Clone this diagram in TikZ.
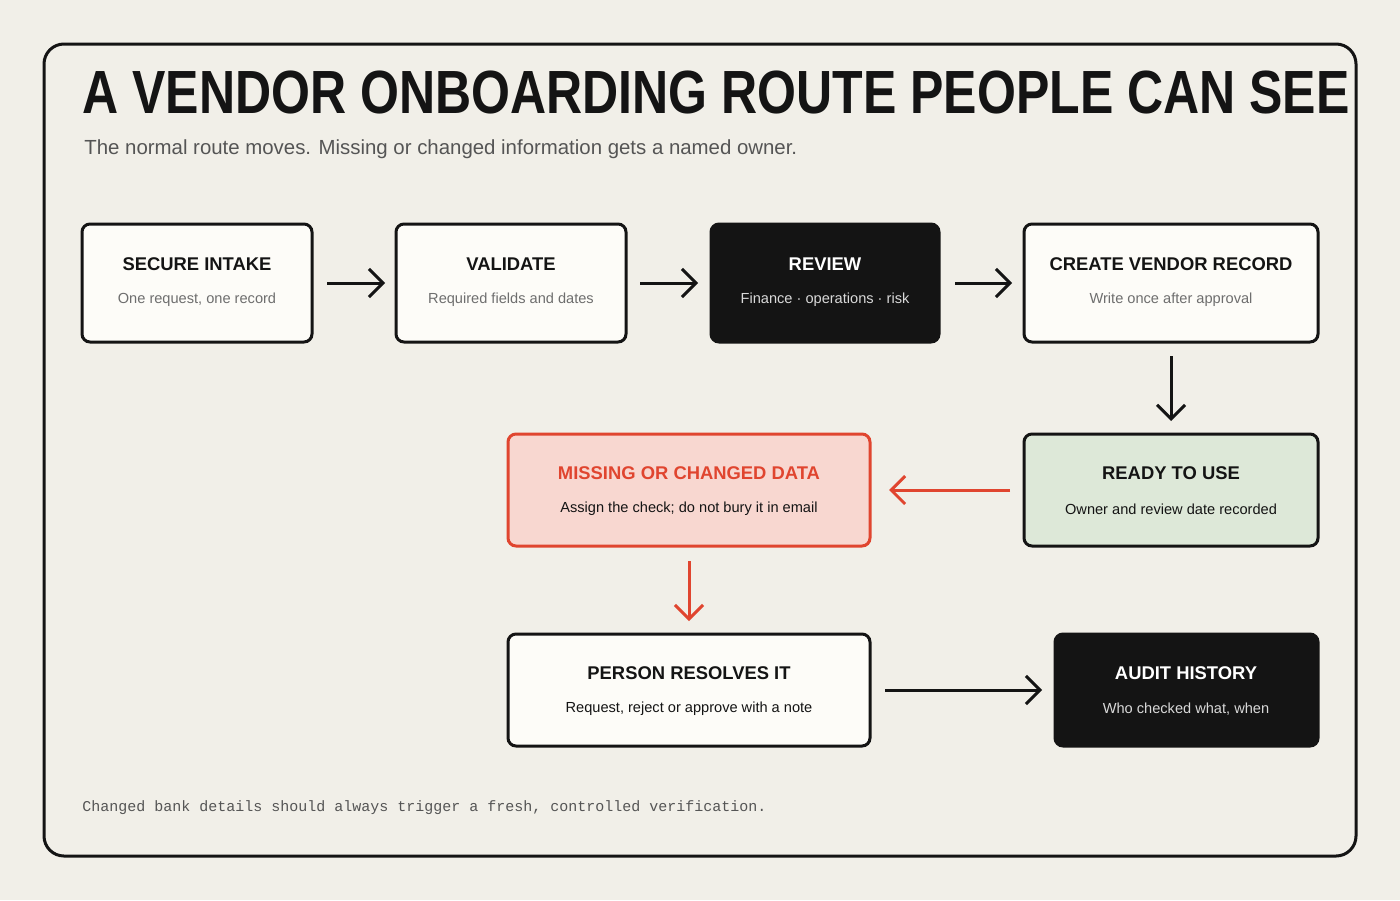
\documentclass[tikz,border=0pt]{standalone}
\usepackage{fontspec}
\setmainfont{Liberation Sans}
\newfontfamily\titlefont[FakeStretch=0.82]{Liberation Sans}
\setmonofont{Liberation Mono}
\usetikzlibrary{arrows.meta}
\definecolor{bg}{HTML}{F1EFE8}
\definecolor{ink}{HTML}{141414}
\definecolor{card}{HTML}{FDFCF8}
\definecolor{redc}{HTML}{E0452F}
\definecolor{redf}{HTML}{F8D7D0}
\definecolor{greenf}{HTML}{DDE8D8}
\definecolor{gray1}{HTML}{555555}
\definecolor{gray2}{HTML}{6E6E6E}
\tikzset{
 box/.style={draw=ink,line width=1.5pt,fill=card,rounded corners=4pt},
 dark/.style={draw=ink,line width=1.5pt,fill=ink,rounded corners=4pt},
 ttl/.style={font=\bfseries\fontsize{9.2}{11}\selectfont,text=ink},
 sub/.style={font=\fontsize{7.3}{9}\selectfont,text=gray2},
 arr/.style={line width=1.5pt,draw=ink,-{Straight Barb[length=7pt,width=14pt,line width=1.5pt]}},
 rarr/.style={arr,draw=redc},
}
\begin{document}
\begin{tikzpicture}[x=0.5pt,y=-0.5pt]
\fill[bg] (0,0) rectangle (1400,900);
\useasboundingbox (0,0) rectangle (1400,900);
\draw[ink,line width=1.5pt,rounded corners=10pt] (44,44) rectangle (1356,856);
\node[anchor=base west,inner sep=0,font=\titlefont\bfseries\fontsize{30.5}{32}\selectfont,text=ink] (title) at (82,113) {A VENDOR ONBOARDING ROUTE PEOPLE CAN SEE};
\node[anchor=base west,inner sep=0,font=\fontsize{10.2}{12}\selectfont,text=gray1] (subt) at (84,154) {The normal route moves. Missing or changed information gets a named owner.};
\node[anchor=base west,inner sep=0,font=\ttfamily\fontsize{7.5}{9}\selectfont,text=gray1] (foot) at (82,811) {Changed bank details should always trigger a fresh, controlled verification.};
% boxes
\path[box] (82,224) rectangle (312,342) coordinate (b1e);
\coordinate (b1) at (197,283);
\path[box] (396,224) rectangle (626,342); \coordinate (b2) at (511,283);
\path[dark] (711,224) rectangle (939,342); \coordinate (b3) at (825,283);
\path[box] (1024,224) rectangle (1318,342); \coordinate (b4) at (1171,283);
\path[box,fill=greenf] (1024,434) rectangle (1318,546); \coordinate (b5) at (1171,490);
\path[box,draw=redc,fill=redf] (508,434) rectangle (870,546); \coordinate (b6) at (689,490);
\path[box] (508,634) rectangle (870,746); \coordinate (b7) at (689,690);
\path[dark] (1055,634) rectangle (1318,746); \coordinate (b8) at (1186,690);
% texts
\node[ttl] (t1) at (197,264) {SECURE INTAKE}; \node[sub] (s1) at (197,300) {One request, one record};
\node[ttl] (t2) at (511,264) {VALIDATE}; \node[sub] (s2) at (511,300) {Required fields and dates};
\node[ttl,text=white] (t3) at (825,264) {REVIEW}; \node[sub,text=white!85!black] (s3) at (825,300) {Finance · operations · risk};
\node[ttl] (t4) at (1171,264) {CREATE VENDOR RECORD}; \node[sub] (s4) at (1171,300) {Write once after approval};
\node[ttl] (t5) at (1171,473) {READY TO USE}; \node[sub,text=ink] (s5) at (1171,509) {Owner and review date recorded};
\node[ttl,text=redc] (t6) at (689,473) {MISSING OR CHANGED DATA}; \node[sub,text=ink] (s6) at (689,509) {Assign the check; do not bury it in email};
\node[ttl] (t7) at (689,673) {PERSON RESOLVES IT}; \node[sub,text=ink] (s7) at (689,709) {Request, reject or approve with a note};
\node[ttl,text=white] (t8) at (1186,673) {AUDIT HISTORY}; \node[sub,text=white!85!black] (s8) at (1186,709) {Who checked what, when};
% arrows
\coordinate (a1s) at (327,283); \coordinate (a1e) at (385,283);
\coordinate (a2s) at (640,283); \coordinate (a2e) at (698,283);
\coordinate (a3s) at (955,283); \coordinate (a3e) at (1012,283);
\coordinate (a4s) at (1171,356); \coordinate (a4e) at (1171,421);
\coordinate (a5s) at (1010,490); \coordinate (a5e) at (889,490);
\coordinate (a6s) at (689,561); \coordinate (a6e) at (689,621);
\coordinate (a7s) at (885,690); \coordinate (a7e) at (1042,690);
\draw[arr] (a1s) -- (a1e);
\draw[arr] (a2s) -- (a2e);
\draw[arr] (a3s) -- (a3e);
\draw[arr] (a4s) -- (a4e);
\draw[rarr] (a5s) -- (a5e);
\draw[rarr] (a6s) -- (a6e);
\draw[arr] (a7s) -- (a7e);
\end{tikzpicture}
\end{document}
